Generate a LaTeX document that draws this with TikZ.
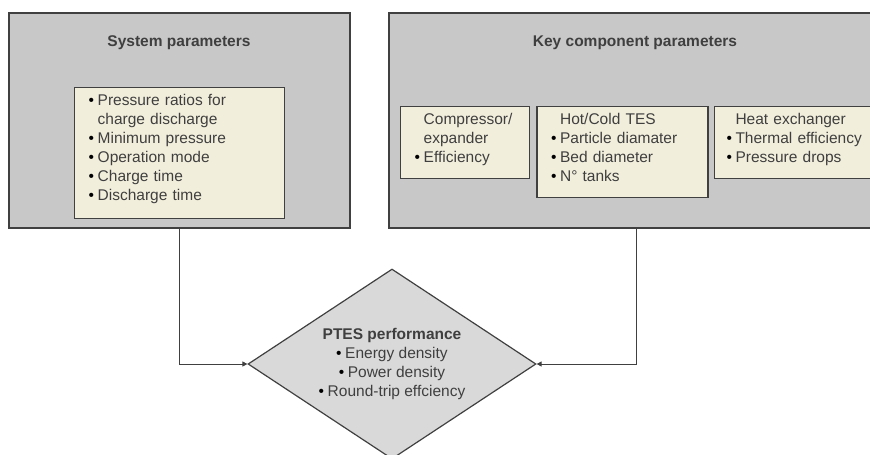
\documentclass[tikz,border=0pt]{standalone}
\usepackage{fontspec}
\setmainfont{Liberation Sans}
\usetikzlibrary{arrows.meta,positioning,shapes.geometric}
\definecolor{boxgray}{HTML}{C8C8C8}
\definecolor{cream}{HTML}{F2EEDC}
\definecolor{diagray}{HTML}{D9D9D9}
\definecolor{edgegray}{HTML}{404040}
\definecolor{txtgray}{HTML}{3F3F3F}
\newcommand{\bul}{\makebox[9pt][l]{\color{black}\textbullet}}
\newcommand{\ind}{\hspace*{9pt}}

\begin{document}
\begin{tikzpicture}[
    x=1pt, y=-1pt,
    every node/.style={
        text=txtgray,
        font=\fontsize{15.5}{19}\selectfont
    },
    group/.style={
        draw=edgegray,
        line width=1.4pt,
        fill=boxgray,
        minimum height=215pt,
        inner sep=0pt
    },
    heading/.style={
        font=\bfseries\fontsize{15.5}{19}\selectfont
    },
    items/.style={
        draw=edgegray,
        line width=1.4pt,
        fill=cream,
        anchor=north west,
        inner xsep=14pt,
        inner ysep=6.5pt,
        text height=11pt,
        align=left
    },
    perf/.style={
        diamond,
        draw=edgegray,
        line width=1.2pt,
        fill=diagray,
        aspect=1.5,
        inner sep=0pt,
        minimum width=288pt,
        minimum height=190pt,
        align=center
    },
    link/.style={draw=edgegray, line width=0.8pt, -{Triangle[length=5pt,width=5pt]}}
]
    \useasboundingbox (0,0) rectangle (870,455);
    \clip (0,0) rectangle (870,455);

    \node[group, minimum width=341pt] (system) at (179.5,120.5) {};
    \node[group, minimum width=494pt] (key) at (636,120.5) {};
    \node[heading] (systitle) at (179,43) {System parameters};
    \node[heading] (keytitle) at (635,43) {Key component parameters};

    \node[items, text width=182pt, text depth=107pt] (sysitems) at (74,87)
        {\bul Pressure ratios for\\ \ind charge discharge\\ \bul Minimum pressure\\
         \bul Operation mode\\ \bul Charge time\\ \bul Discharge time};

    \node[items, text width=101pt, text depth=48pt] (comp) at (400,106)
        {\ind Compressor/\\ \ind expander\\ \bul Efficiency};
    \node[items, text width=143pt, text depth=67pt, right=6pt of comp.north east, anchor=north west] (tes)
        {\ind Hot/Cold TES\\ \bul Particle diamater\\ \bul Bed diameter\\ \bul N° tanks};
    \node[items, text width=139pt, text depth=48pt, inner xsep=12pt, right=5pt of tes.north east, anchor=north west] (hx)
        {\ind Heat exchanger\\ \bul Thermal efficiency\\ \bul Pressure drops};

    \node[perf] (ptes) at (392,364)
        {{\bfseries PTES performance}\\ \bul Energy density\\
         \bul Power density\\ \bul Round-trip effciency};

    \draw[link] (system.south) |- (ptes.west);
    \draw[link] (key.south) |- (ptes.east);
\end{tikzpicture}
\end{document}
